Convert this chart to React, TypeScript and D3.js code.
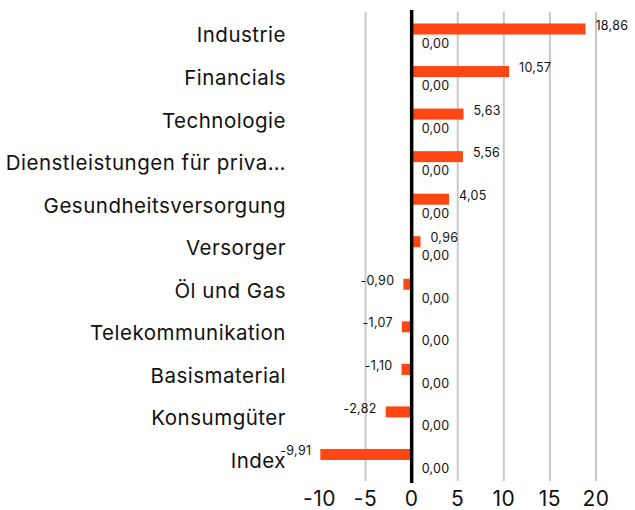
import React, { useRef, useEffect } from "react";
import * as d3 from "d3";

const categories = [
  "Industrie",
  "Financials",
  "Technologie",
  "Dienstleistungen für priva…",
  "Gesundheitsversorgung",
  "Versorger",
  "Öl und Gas",
  "Telekommunikation",
  "Basismaterial",
  "Konsumgüter",
  "Index",
];
const fundValues = [18.86, 10.57, 5.63, 5.56, 4.05, 0.96, -0.9, -1.07, -1.1, -2.82, -9.91];
const secondValues = [0, 0, 0, 0, 0, 0, 0, 0, 0, 0, 0];
const xTicks = [-10, -5, 0, 5, 10, 15, 20];

const W = 635;
const H = 510;
const ORANGE = "#FF4713";
const fmt = (v: number) => v.toFixed(2).replace(".", ",");

const App: React.FC = () => {
  const svgRef = useRef<SVGSVGElement | null>(null);

  useEffect(() => {
    if (!svgRef.current) return;
    const svg = d3.select(svgRef.current);
    svg.selectAll("*").remove();

    const x = d3.scaleLinear().domain([-10, 20]).range([319.5, 596]);
    const y = d3.scaleBand<string>().domain(categories).range([12, 480]);
    const sub = d3.scaleBand<string>().domain(["a", "b"]).range([11.5, 33.5]);

    // gridlines
    svg.append("g")
      .selectAll("line")
      .data(xTicks.filter((t) => t !== 0 && t !== -10))
      .enter().append("line")
      .attr("x1", (d) => x(d)).attr("x2", (d) => x(d))
      .attr("y1", 12).attr("y2", 481)
      .attr("stroke", "#c8c8c8").attr("stroke-width", 2);

    // bars
    svg.append("g")
      .selectAll("rect")
      .data(fundValues)
      .enter().append("rect")
      .attr("x", (d) => x(Math.min(0, d)))
      .attr("width", (d) => Math.abs(x(d) - x(0)))
      .attr("y", (_, i) => y(categories[i])! + sub("a")!)
      .attr("height", sub.bandwidth())
      .attr("fill", ORANGE);

    // zero line
    svg.append("line")
      .attr("x1", x(0)).attr("x2", x(0))
      .attr("y1", 10).attr("y2", 483)
      .attr("stroke", "#000").attr("stroke-width", 3.5);

    // value labels
    const vl = svg.append("g")
      .style("font-family", "Inter, 'Open Sans', sans-serif")
      .style("font-size", "12.5px")
      .style("letter-spacing", "0.3px")
      .attr("fill", "#111");
    vl.selectAll("text.a")
      .data(fundValues)
      .enter().append("text")
      .attr("x", (d) => (d >= 0 ? x(d) + 10 : x(d) - 9))
      .attr("y", (_, i) => y(categories[i])! + sub("a")! + sub.bandwidth() / 2)
      .attr("dy", "0.05em")
      .attr("text-anchor", (d) => (d >= 0 ? "start" : "end"))
      .text((d) => fmt(d));
    vl.selectAll("text.b")
      .data(secondValues)
      .enter().append("text")
      .attr("x", (d) => x(d) + 10)
      .attr("y", (_, i) => y(categories[i])! + sub("b")! + sub.bandwidth() / 2)
      .attr("dy", "0.6em")
      .attr("text-anchor", "start")
      .text((d) => fmt(d));

    // category labels
    svg.append("g")
      .style("font-family", "Inter, 'Open Sans', sans-serif")
      .style("font-size", "20.5px")
      .style("letter-spacing", "0.5px")
      .attr("fill", "#111")
      .selectAll("text")
      .data(categories)
      .enter().append("text")
      .attr("x", 286)
      .attr("y", (d) => y(d)! + y.bandwidth() / 2 + 2)
      .attr("dy", "0.35em")
      .attr("text-anchor", "end")
      .text((d) => d);

    // x tick labels
    svg.append("g")
      .style("font-family", "Inter, 'Open Sans', sans-serif")
      .style("font-size", "21px")
      .style("letter-spacing", "0.5px")
      .attr("fill", "#111")
      .selectAll("text")
      .data(xTicks)
      .enter().append("text")
      .attr("x", (d) => x(d))
      .attr("y", 499)
      .attr("dy", "0.35em")
      .attr("text-anchor", "middle")
      .text((d) => String(d));
  }, []);

  return (
    <svg
      ref={svgRef}
      width={W}
      height={H}
      style={{ position: "absolute", left: 0, top: 0, background: "#fff" }}
    />
  );
};

export default App;
